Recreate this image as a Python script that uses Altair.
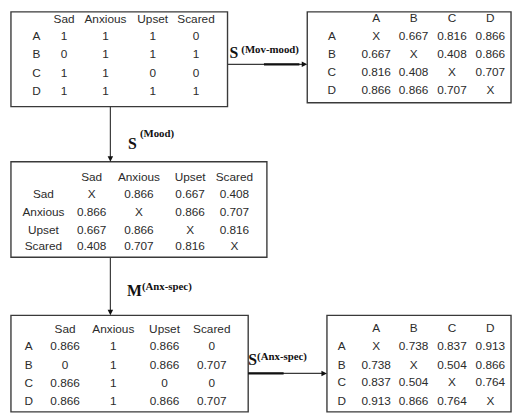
import altair as alt
import pandas as pd

# ---------------- data ----------------
users = ["A", "B", "C", "D"]
moods = ["Sad", "Anxious", "Upset", "Scared"]
user_mood = [[1, 1, 1, 0], [0, 1, 1, 1], [1, 1, 0, 0], [1, 1, 1, 1]]
mood_sim = [[None, 0.866, 0.667, 0.408], [0.866, None, 0.866, 0.707],
            [0.667, 0.866, None, 0.816], [0.408, 0.707, 0.816, None]]
mov_mood_sim = [[None, 0.667, 0.816, 0.866], [0.667, None, 0.408, 0.866],
                [0.816, 0.408, None, 0.707], [0.866, 0.866, 0.707, None]]
anx_spec = [[0.866, 1, 0.866, 0], [0, 1, 0.866, 0.707],
            [0.866, 1, 0, 0], [0.866, 1, 0.866, 0.707]]
anx_sim = [[None, 0.738, 0.837, 0.913], [0.738, None, 0.504, 0.866],
           [0.837, 0.504, None, 0.764], [0.913, 0.866, 0.764, None]]
edge_labels = [("S", "(Mov-mood)"), ("S", "(Mood)"), ("M", "(Anx-spec)"), ("S", "(Anx-spec)")]


def fmt(v):
    if v is None:
        return "X"
    if float(v).is_integer():
        return str(int(v))
    return f"{v:.3f}"


# ---------------- layout (page pixel coordinates) ----------------
tables = [
    dict(cols=moods, rows=users, vals=user_mood, box=(11, 8.7, 231, 105),
         lx=37, cx=[65, 107, 155, 199], ry=[16, 33, 52, 71, 89]),
    dict(cols=users, rows=users, vals=mov_mood_sim, box=(312, 8.7, 519, 101),
         lx=337, cx=[382, 420, 459, 498], ry=[15, 33, 52, 70, 88]),
    dict(cols=moods, rows=moods, vals=mood_sim, box=(11, 161, 271, 258),
         lx=44, cx=[93, 141, 193, 238], ry=[176, 194, 212, 230, 247]),
    dict(cols=moods, rows=users, vals=anx_spec, box=(11, 317, 252, 415),
         lx=29, cx=[66, 115, 167, 215], ry=[331, 348, 367, 386, 404]),
    dict(cols=users, rows=users, vals=anx_sim, box=(332, 317, 519, 415),
         lx=347, cx=[382, 420, 459, 498], ry=[330, 348, 367, 385, 404]),
]

cells = []
boxes = []
for t in tables:
    x0, y0, x1, y1 = t["box"]
    boxes.append(dict(x=x0, y=y0, x2=x1, y2=y1))
    for j, c in enumerate(t["cols"]):
        cells.append(dict(x=t["cx"][j], y=t["ry"][0], text=c))
    for i, r in enumerate(t["rows"]):
        cells.append(dict(x=t["lx"], y=t["ry"][i + 1], text=r))
        for j, v in enumerate(t["vals"][i]):
            cells.append(dict(x=t["cx"][j], y=t["ry"][i + 1], text=fmt(v)))
cells = pd.DataFrame(cells)
boxes = pd.DataFrame(boxes)

thin = pd.DataFrame([
    dict(x=231, y=62, x2=309, y2=62),
    dict(x=112, y=105, x2=112, y2=158),
    dict(x=112, y=258, x2=112, y2=314),
    dict(x=252, y=376, x2=329, y2=376),
])
thick = pd.DataFrame([
    dict(x=268, y=62, x2=304, y2=62),
    dict(x=252, y=376, x2=288, y2=376),
])
heads_down = pd.DataFrame([dict(x=112, y=161), dict(x=112, y=317)])
heads_right = pd.DataFrame([dict(x=312, y=62), dict(x=332, y=376)])

lab_pos = [(233, 56, 245, 50), (130, 148, 142, 136), (129, 297, 144, 291), (252, 367, 261, 362)]
mains = pd.DataFrame([dict(x=p[0], y=p[1], text=l[0]) for l, p in zip(edge_labels, lab_pos)])
sups = pd.DataFrame([dict(x=p[2], y=p[3], text=l[1]) for l, p in zip(edge_labels, lab_pos)])

# ---------------- chart ----------------
xs = alt.Scale(domain=[8, 521], nice=False, zero=False)
ys = alt.Scale(domain=[8, 417], nice=False, zero=False, reverse=True)
X = alt.X("x:Q", scale=xs, axis=None)
Y = alt.Y("y:Q", scale=ys, axis=None)

INK = "#2b2b2b"
LINE = "#3a3a3a"

rects = alt.Chart(boxes).mark_rect(fill="white", fillOpacity=0, stroke=LINE, strokeWidth=1.4).encode(
    x=X, y=Y, x2="x2:Q", y2="y2:Q")
rules = alt.Chart(thin).mark_rule(color=LINE, strokeWidth=1.2).encode(x=X, y=Y, x2="x2:Q", y2="y2:Q")
rules2 = alt.Chart(thick).mark_rule(color="#111", strokeWidth=2.2).encode(x=X, y=Y, x2="x2:Q", y2="y2:Q")
hd = alt.Chart(heads_down).mark_point(shape="M0,0L-0.8,-1.6L0.8,-1.6Z", filled=True, color="#111",
                                      size=49, opacity=1).encode(x=X, y=Y)
hr = alt.Chart(heads_right).mark_point(shape="M0,0L-1.6,-0.8L-1.6,0.8Z", filled=True, color="#111",
                                       size=49, opacity=1).encode(x=X, y=Y)

txt = alt.Chart(cells).mark_text(
    font="Liberation Sans", fontSize=12, color=INK, align="center", baseline="middle").encode(
    x=X, y=Y, text="text:N")
lab_main = alt.Chart(mains).mark_text(font="Liberation Serif", fontSize=16, fontWeight="bold", color="#111",
                                      align="left", baseline="alphabetic").encode(x=X, y=Y, text="text:N")
lab_sup = alt.Chart(sups).mark_text(font="Liberation Serif", fontSize=11, fontWeight="bold", color="#111",
                                    align="left", baseline="alphabetic").encode(x=X, y=Y, text="text:N")

chart = alt.layer(rects, rules, rules2, hd, hr, txt, lab_main, lab_sup).properties(
    width=513, height=409, padding=0, autosize=alt.AutoSizeParams(type="none"), background="white"
).configure_view(stroke=None)

chart.save("out.html", embed_options={"renderer": "svg", "actions": False})
